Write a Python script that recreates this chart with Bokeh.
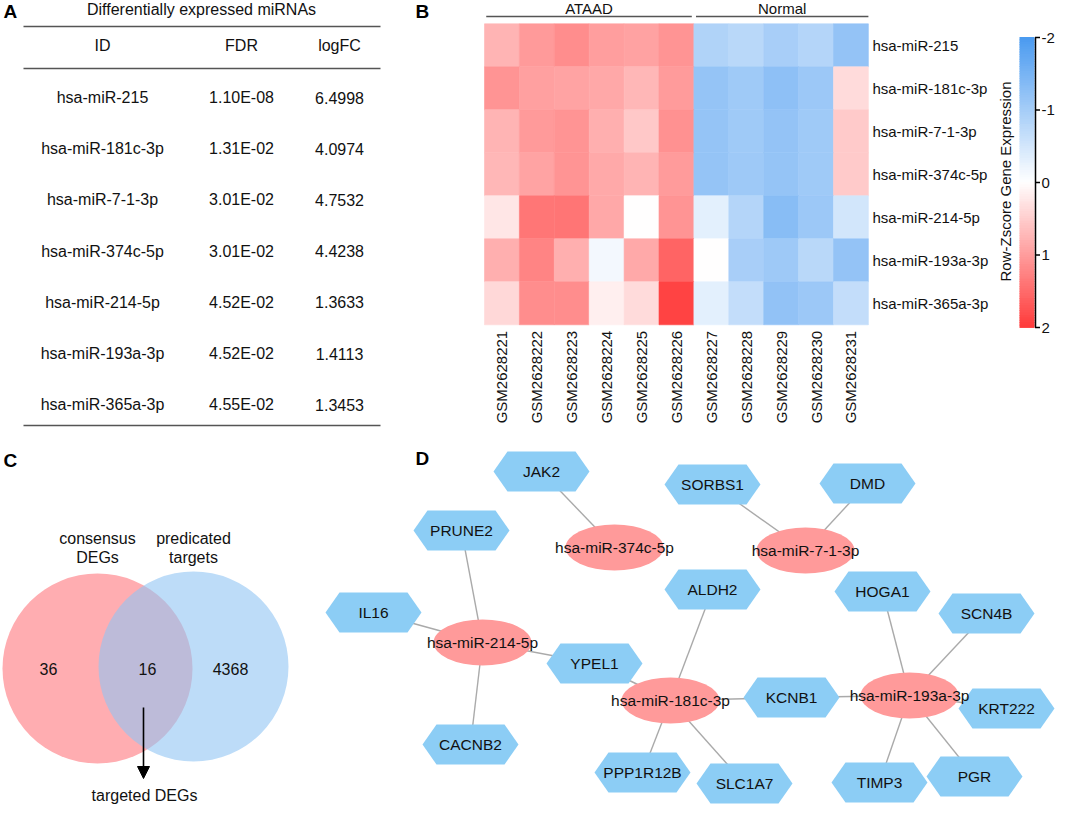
import numpy as np
from bokeh.plotting import figure
from bokeh.models import Range1d, ColumnDataSource, LinearColorMapper, Arrow, NormalHead
from bokeh.transform import transform
from bokeh.embed import file_html
from bokeh.resources import INLINE
from bokeh.core.properties import value

# ---------------- data ----------------
table_title = "Differentially expressed miRNAs"
table_headers = ["ID", "FDR", "logFC"]
mirna_ids = ["hsa-miR-215", "hsa-miR-181c-3p", "hsa-miR-7-1-3p", "hsa-miR-374c-5p",
             "hsa-miR-214-5p", "hsa-miR-193a-3p", "hsa-miR-365a-3p"]
fdr_values = ["1.10E-08", "1.31E-02", "3.01E-02", "3.01E-02", "4.52E-02", "4.52E-02", "4.55E-02"]
logfc_values = ["6.4998", "4.0974", "4.7532", "4.4238", "1.3633", "1.4113", "1.3453"]

samples = ["GSM2628221", "GSM2628222", "GSM2628223", "GSM2628224", "GSM2628225", "GSM2628226",
           "GSM2628227", "GSM2628228", "GSM2628229", "GSM2628230", "GSM2628231"]
group_names = ["ATAAD", "Normal"]
group_sizes = [6, 5]
heat_rows = mirna_ids
z_mir215 = [0.75, 1.03, 1.15, 0.98, 0.95, 1.09, -0.87, -0.78, -0.96, -0.82, -1.18]
z_mir181c = [1.09, 0.96, 0.93, 0.88, 0.73, 1.00, -1.16, -1.05, -1.25, -1.09, 0.36]
z_mir7 = [0.75, 1.03, 1.08, 0.80, 0.56, 1.12, -1.16, -1.05, -1.18, -1.05, 0.54]
z_mir374c = [0.73, 0.93, 1.09, 0.87, 0.75, 1.00, -1.16, -1.07, -1.16, -1.05, 0.54]
z_mir214 = [0.25, 1.38, 1.40, 0.88, 0.00, 1.09, -0.31, -0.82, -1.31, -1.09, -0.50]
z_mir193a = [0.80, 1.24, 0.80, -0.13, 0.87, 1.57, 0.00, -0.96, -1.07, -0.78, -1.18]
z_mir365a = [0.40, 1.15, 1.15, 0.17, 0.36, 1.90, -0.31, -0.67, -1.20, -1.09, -0.67]
zscore_rows = [z_mir215, z_mir181c, z_mir7, z_mir374c, z_mir214, z_mir193a, z_mir365a]
colorbar_title = "Row-Zscore Gene Expression"
colorbar_ticks = [-2, -1, 0, 1, 2]

venn_set_line1 = ["consensus", "predicated"]
venn_set_line2 = ["DEGs", "targets"]
venn_counts = ["36", "16", "4368"]
venn_arrow_label = "targeted DEGs"

net_mirnas = ["hsa-miR-374c-5p", "hsa-miR-7-1-3p", "hsa-miR-214-5p", "hsa-miR-181c-3p", "hsa-miR-193a-3p"]
net_genes = ["JAK2", "SORBS1", "DMD", "PRUNE2", "IL16", "ALDH2", "HOGA1", "SCN4B", "YPEL1",
             "KCNB1", "KRT222", "CACNB2", "PPP1R12B", "SLC1A7", "TIMP3", "PGR"]
net_edges = [("JAK2", "hsa-miR-374c-5p"), ("SORBS1", "hsa-miR-7-1-3p"), ("DMD", "hsa-miR-7-1-3p"),
             ("PRUNE2", "hsa-miR-214-5p"), ("IL16", "hsa-miR-214-5p"), ("YPEL1", "hsa-miR-214-5p"),
             ("CACNB2", "hsa-miR-214-5p"), ("YPEL1", "hsa-miR-181c-3p"), ("ALDH2", "hsa-miR-181c-3p"),
             ("KCNB1", "hsa-miR-181c-3p"), ("PPP1R12B", "hsa-miR-181c-3p"), ("SLC1A7", "hsa-miR-181c-3p"),
             ("KCNB1", "hsa-miR-193a-3p"), ("HOGA1", "hsa-miR-193a-3p"), ("SCN4B", "hsa-miR-193a-3p"),
             ("KRT222", "hsa-miR-193a-3p"), ("PGR", "hsa-miR-193a-3p"), ("TIMP3", "hsa-miR-193a-3p")]

# ---------------- layout (positions / styles) ----------------
FONT = value("Liberation Sans")
TXT = "#111111"
node_layout = {
    "hsa-miR-374c-5p": (614, 547), "hsa-miR-7-1-3p": (805, 550), "hsa-miR-214-5p": (482, 642),
    "hsa-miR-181c-3p": (670, 700), "hsa-miR-193a-3p": (909, 695),
    "JAK2": (541, 471), "SORBS1": (712, 484), "DMD": (867, 483), "PRUNE2": (461, 530),
    "IL16": (373, 612), "ALDH2": (712, 589), "HOGA1": (882, 591), "SCN4B": (986, 613),
    "YPEL1": (594, 663), "KCNB1": (791, 697), "KRT222": (1006, 708), "CACNB2": (470, 744),
    "PPP1R12B": (642, 772), "SLC1A7": (744, 783), "TIMP3": (879, 782), "PGR": (974, 776),
}

W, H = 1056, 805
p = figure(width=W, height=H, x_range=Range1d(0, W), y_range=Range1d(H, 0),
           output_backend="svg", toolbar_location=None, min_border=0,
           x_axis_location=None, y_axis_location=None)
p.grid.visible = False
p.outline_line_color = None
p.background_fill_color = "white"
p.border_fill_color = "white"

# heatmap coordinate system
HM_X0, HM_Y0, CW, RH = 484.0, 23.3, 34.9, 43.0
p.extra_x_ranges = {"hm": Range1d((0 - HM_X0) / CW - 0.5, (W - HM_X0) / CW - 0.5)}
CB_TOP, CB_BOT = 37.0, 327.0
cb_scale = (CB_BOT - CB_TOP) / 4.0
cb_mid = (CB_BOT + CB_TOP) / 2.0
p.extra_y_ranges = {
    "hm": Range1d((H - HM_Y0) / RH - 0.5, (0 - HM_Y0) / RH - 0.5),
    "cb": Range1d((H - cb_mid) / cb_scale, (0 - cb_mid) / cb_scale),
}

# ---------------- panel letters ----------------
p.text(x=[3, 415, 3, 415], y=[11, 11, 460, 458], text=["A", "B", "C", "D"],
       text_font=FONT, text_font_size=value("19px"), text_font_style="bold",
       text_align="left", text_baseline="middle", text_color="black")

# ---------------- panel A: table ----------------
col_x = [102, 241, 339]
row_y0, row_dy = 97.0, 51.2
p.text(x=[201], y=[9], text=[table_title], text_font=FONT, text_font_size=value("16px"),
       text_align="center", text_baseline="middle", text_color=TXT)
p.segment(x0=[23, 23, 23], y0=[26, 68, 425], x1=[380, 380, 380], y1=[26, 68, 425],
          line_color="#555555", line_width=1.6)
p.text(x=col_x, y=[45] * 3, text=table_headers, text_font=FONT, text_font_size=value("16px"),
       text_align="center", text_baseline="middle", text_color=TXT)
ry = [row_y0 + i * row_dy for i in range(len(mirna_ids))]
for cx, col in zip(col_x, [mirna_ids, fdr_values, logfc_values]):
    p.text(x=[cx] * len(col), y=ry, text=col, text_font=FONT, text_font_size=value("16px"),
           text_align="center", text_baseline="middle", text_color=TXT)

# ---------------- panel B: heatmap ----------------
def mix(c1, c2, t):
    return "#%02x%02x%02x" % tuple(int(round(a + (b - a) * t)) for a, b in zip(c1, c2))

BLUE, WHITE, RED = (74, 154, 240), (255, 255, 255), (255, 58, 58)
palette = []
for i in range(256):
    v = -2 + 4 * i / 255
    palette.append(mix(WHITE, BLUE, -v / 2) if v < 0 else mix(WHITE, RED, v / 2))
mapper = LinearColorMapper(palette=palette, low=-2, high=2)

hx, hy, hz = [], [], []
for r, row in enumerate(zscore_rows):
    for c, zv in enumerate(row):
        hx.append(c); hy.append(r); hz.append(zv)
hsrc = ColumnDataSource(dict(x=hx, y=hy, z=hz))
p.rect(x="x", y="y", width=1.0, height=1.0, source=hsrc, x_range_name="hm", y_range_name="hm",
       fill_color=transform("z", mapper), line_color=transform("z", mapper), line_width=0.6)

# group labels
starts = np.cumsum([0] + group_sizes[:-1])
g_left = [s - 0.5 + 0.06 for s in starts]
g_right = [s + n - 0.5 - 0.06 for s, n in zip(starts, group_sizes)]
g_left[0] = -0.45
g_right[-1] = len(samples) - 0.5
p.segment(x0=g_left, y0=[16] * 2, x1=g_right, y1=[16] * 2, x_range_name="hm",
          line_color="#555555", line_width=1.3)
p.text(x=[(a + b) / 2 for a, b in zip(g_left, g_right)], y=[8] * 2, text=group_names,
       x_range_name="hm", text_font=FONT, text_font_size=value("15px"),
       text_align="center", text_baseline="middle", text_color=TXT)

# row labels
p.text(x=[len(samples) - 0.5] * len(heat_rows), y=list(range(len(heat_rows))), text=heat_rows,
       x_offset=4, x_range_name="hm", y_range_name="hm", text_font=FONT,
       text_font_size=value("15px"), text_align="left", text_baseline="middle", text_color=TXT)
# sample labels
p.text(x=list(range(len(samples))), y=[len(heat_rows) - 0.5] * len(samples), text=samples,
       y_offset=6, angle=np.pi / 2, x_range_name="hm", y_range_name="hm", text_font=FONT,
       text_font_size=value("15px"), text_align="right", text_baseline="middle", text_color=TXT)

# colour bar
CB_L, CB_R = 1019, 1034
edges = np.linspace(-2, 2, 121)
mids = (edges[:-1] + edges[1:]) / 2
p.quad(left=CB_L, right=CB_R, top=list(edges[:-1] - 0.006), bottom=list(edges[1:] + 0.006),
       y_range_name="cb", fill_color=[palette[int(round((m + 2) / 4 * 255))] for m in mids],
       line_color=None)
p.segment(x0=[CB_R + 1], y0=[-2], x1=[CB_R + 1], y1=[2], y_range_name="cb",
          line_color="black", line_width=1.5)
p.segment(x0=[CB_R + 0.5] * 5, y0=colorbar_ticks, x1=[CB_R + 5.5] * 5, y1=colorbar_ticks,
          y_range_name="cb", line_color="black", line_width=1.5)
p.text(x=[CB_R + 7] * 5, y=colorbar_ticks, text=[str(t) for t in colorbar_ticks], y_range_name="cb",
       text_font=FONT, text_font_size=value("15px"), text_align="left", text_baseline="middle",
       text_color=TXT)
p.text(x=[1005], y=[181], text=[colorbar_title], angle=np.pi / 2, text_font=FONT,
       text_font_size=value("15px"), text_align="center", text_baseline="middle", text_color=TXT)

# ---------------- panel C: Venn ----------------
p.circle(x=[97], y=[668], radius=95, fill_color="#ffadb1", line_color=None)
p.circle(x=[193], y=[666], radius=95, fill_color="#91c5f3", fill_alpha=0.6, line_color=None)
p.text(x=[97, 193], y=[538, 538], text=venn_set_line1, text_font=FONT, text_font_size=value("16px"),
       text_align="center", text_baseline="middle", text_color=TXT)
p.text(x=[97, 193], y=[557, 557], text=venn_set_line2, text_font=FONT, text_font_size=value("16px"),
       text_align="center", text_baseline="middle", text_color=TXT)
p.text(x=[48, 147, 230], y=[668] * 3, text=venn_counts, text_font=FONT, text_font_size=value("16px"),
       text_align="center", text_baseline="middle", text_color=TXT)
p.add_layout(Arrow(end=NormalHead(size=12, fill_color="black", line_color="black"),
                   x_start=143, y_start=707, x_end=143, y_end=778, line_color="black", line_width=1.6))
p.text(x=[144], y=[795], text=[venn_arrow_label], text_font=FONT, text_font_size=value("16px"),
       text_align="center", text_baseline="middle", text_color=TXT)

# ---------------- panel D: network ----------------
ex0 = [node_layout[g][0] for g, m in net_edges]
ey0 = [node_layout[g][1] for g, m in net_edges]
ex1 = [node_layout[m][0] for g, m in net_edges]
ey1 = [node_layout[m][1] for g, m in net_edges]
p.segment(x0=ex0, y0=ey0, x1=ex1, y1=ey1, line_color="#aaaaaa", line_width=1.4)

HW, HH, HIN = 48, 20, 14
hex_dx = [-HW, -HW + HIN, HW - HIN, HW, HW - HIN, -HW + HIN]
hex_dy = [0, -HH, -HH, 0, HH, HH]
gx = [node_layout[g][0] for g in net_genes]
gy = [node_layout[g][1] for g in net_genes]
p.patches(xs=[[x + d for d in hex_dx] for x in gx], ys=[[y + d for d in hex_dy] for y in gy],
          fill_color="#8ccdf5", line_color=None)
p.text(x=gx, y=gy, text=net_genes, text_font=FONT, text_font_size=value("15.5px"),
       text_align="center", text_baseline="middle", text_color=TXT)

mx = [node_layout[m][0] for m in net_mirnas]
my = [node_layout[m][1] for m in net_mirnas]
p.ellipse(x=mx, y=my, width=98, height=46, fill_color="#ff9a9a", line_color=None)
p.text(x=mx, y=my, text=net_mirnas, text_font=FONT, text_font_size=value("15.5px"),
       text_align="center", text_baseline="middle", text_color=TXT)

open("out.html", "w").write(file_html(p, INLINE))
